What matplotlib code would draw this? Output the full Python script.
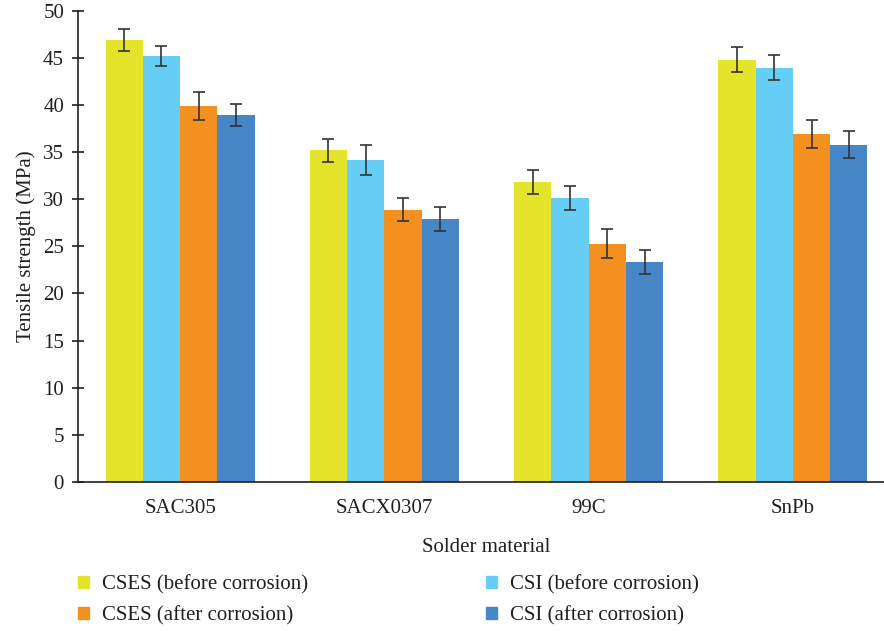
import matplotlib
matplotlib.use("Agg")
import matplotlib.pyplot as plt
from matplotlib.patches import Patch
import numpy as np

categories = ["SAC305", "SACX0307", "99C", "SnPb"]
series_names = ["CSES (before corrosion)", "CSI (before corrosion)",
                "CSES (after corrosion)", "CSI (after corrosion)"]
cses_before = [46.9, 35.2, 31.85, 44.8]
csi_before = [45.2, 34.2, 30.15, 43.95]
cses_after = [39.9, 28.9, 25.3, 36.9]
csi_after = [38.95, 27.9, 23.35, 35.8]
cses_before_err = [1.15, 1.2, 1.25, 1.3]
csi_before_err = [1.1, 1.6, 1.25, 1.3]
cses_after_err = [1.45, 1.25, 1.5, 1.5]
csi_after_err = [1.2, 1.3, 1.25, 1.4]
yticks = [0, 5, 10, 15, 20, 25, 30, 35, 40, 45, 50]

colors = ["#E4E42C", "#66CEF4", "#F39020", "#4686C6"]
values = [cses_before, csi_before, cses_after, csi_after]
errors = [cses_before_err, csi_before_err, cses_after_err, csi_after_err]

plt.rcParams['font.family'] = ['Liberation Serif', 'DejaVu Serif']
FS = 15

W, H = 884, 631
fig = plt.figure(figsize=(W / 100, H / 100), dpi=100)
ax_left, ax_right = 78, 895
ax_top, ax_bottom = 10.7, 482
ax = fig.add_axes([ax_left / W, (H - ax_bottom) / H,
                   (ax_right - ax_left) / W, (ax_bottom - ax_top) / H])

x = np.arange(len(categories))
bw = 0.1826
offsets = [-1.5, -0.5, 0.5, 1.5]
for vals, errs, c, off, name in zip(values, errors, colors, offsets, series_names):
    ax.bar(x + off * bw, vals, width=bw, color=c, label=name, zorder=2)
    ax.errorbar(x + off * bw, vals, yerr=errs, fmt='none', ecolor='#333333',
                elinewidth=1.2, capsize=4.5, capthick=1.2, zorder=3)

ax.set_xlim(-0.5, 3.5)
ax.set_ylim(0, 50)
ax.set_yticks(yticks)
ax.set_xticks(x)
ax.set_xticklabels(categories, fontsize=FS, color='#231F20')
ax.tick_params(axis='y', direction='inout', length=8, width=1.2, labelsize=FS,
               colors='#231F20', pad=6)
ax.tick_params(axis='x', length=0, pad=12)
for s in ['top', 'right']:
    ax.spines[s].set_visible(False)
for s in ['left', 'bottom']:
    ax.spines[s].set_linewidth(1.2)
    ax.spines[s].set_color('#231F20')
ax.spines['left'].set_bounds(0, 50)

ax.set_ylabel("Tensile strength (MPa)", fontsize=FS, color='#231F20', labelpad=5)
ax.set_xlabel("Solder material", fontsize=FS, color='#231F20', labelpad=15)

handles = [Patch(color=colors[i]) for i in [0, 2, 1, 3]]
labels = [series_names[i] for i in [0, 2, 1, 3]]
fig.legend(handles, labels, ncol=2, loc='upper left',
           bbox_to_anchor=(74 / W, 1 - 571 / H), frameon=False, fontsize=FS,
           handlelength=0.53, handleheight=0.53, handletextpad=0.62,
           columnspacing=8.55, labelspacing=0.55, borderaxespad=0, borderpad=0.2,
           labelcolor='#231F20')

fig.savefig("out.png", dpi=100)
